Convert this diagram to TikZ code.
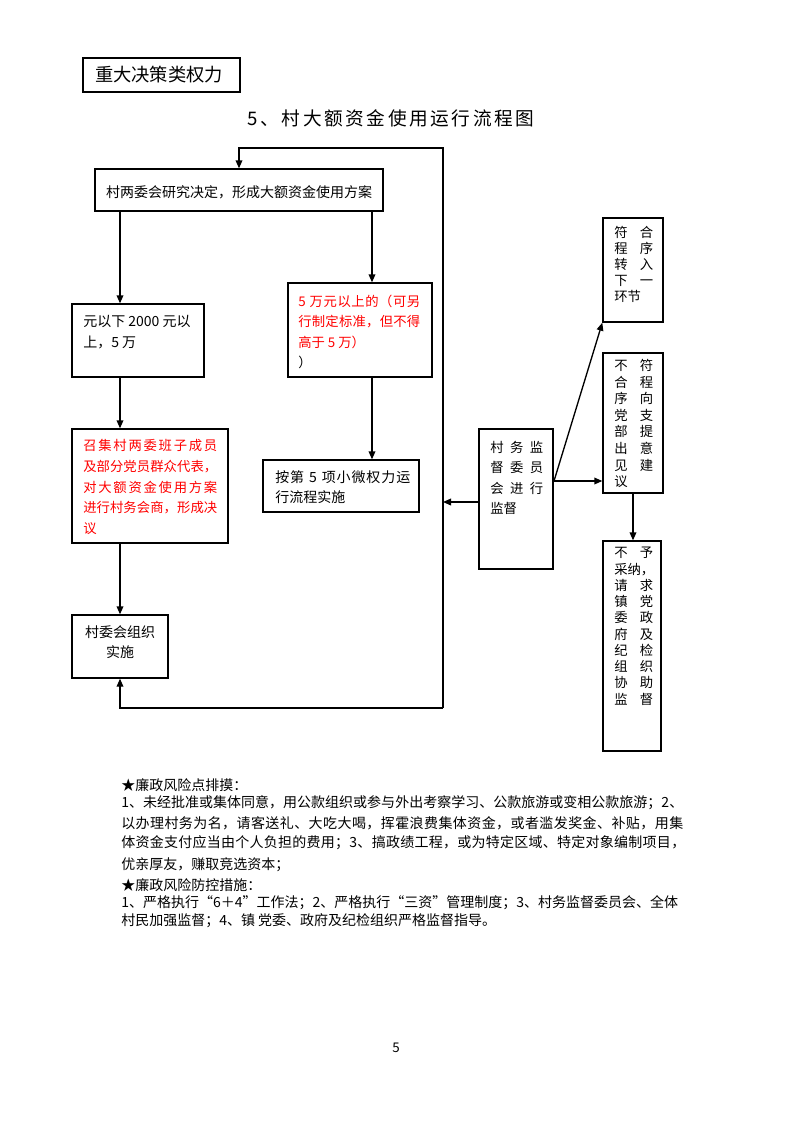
\documentclass[tikz,border=0pt]{standalone}
\usepackage{fontspec}
\setmainfont{Noto Sans CJK SC}
\usetikzlibrary{arrows.meta,fit}
\newdimen\PX \PX=0.75pt
\newskip\lsgap
\makeatletter
\def\lsp#1{\lsp@a#1\@nil}
\def\lsp@a#1{#1\lsp@b}
\def\lsp@b#1{\ifx#1\@nil\else\hskip\lsgap\relax#1\expandafter\lsp@b\fi}
\makeatother
\newcommand\jline[2]{\makebox[#1\PX][s]{\lsgap=0pt plus 1fil\lsp{#2}}}
\newcommand\gline[2]{{\lsgap=#1\PX\lsp{#2}}}
\begin{document}
\begin{tikzpicture}[x=0.75pt,y=-0.75pt,
  box/.style={draw, line width=1pt, inner sep=0pt},
  arr/.style={line width=1pt, -{Triangle[length=6pt,width=5pt]}},
  ln/.style={line width=1pt},
  txt/.style={inner sep=0pt, align=left, anchor=north west},
  body/.style={inner sep=0pt, anchor=west, font=\fontsize{10.5}{13}\selectfont},
  ]
\useasboundingbox (0,0) rectangle (793,1122);
% header
\node[box, fit={(83,58)(240,92)}] (tb) {};
\node[inner sep=0pt, font=\fontsize{13.7}{16}\selectfont] (tbt) at (159,75) {重大决策类权力};
\node[inner sep=0pt, font=\fontsize{14}{17}\selectfont] (title) at (391,118) {\gline{2.6}{5、村大额资金使用运行流程图}};
% boxes
\node[box, fit={(95,169)(383,211)}] (b1) {};
\node[inner sep=0pt, font=\fontsize{10.5}{13}\selectfont] (b1t) at (239,192) {村两委会研究决定，形成大额资金使用方案};
\node[box, fit={(72,304)(204,377)}] (b2) {};
\node[txt, font=\fontsize{10.5}{15.75}\selectfont] (b2t) at (83,314.7) {元以下 2000 元以\\上，5 万};
\node[box, fit={(288,283)(432,377)}] (b3) {};
\node[txt, text=red, font=\fontsize{10}{15.2}\selectfont] (b3t) at (298,295) {\jline{122}{5\ 万元以上的（可另}\\\jline{122}{行制定标准，但不得}\\高于 5 万）\\\textcolor{black}{）}};
\node[box, fit={(263,460)(419,512)}] (b4) {};
\node[txt, font=\fontsize{10.5}{15}\selectfont] (b4t) at (275,470.7) {\jline{135}{按第\ 5\ 项小微权力运}\\行流程实施};
\node[box, fit={(72,429)(228,543)}] (b6) {};
\node[txt, text=red, font=\fontsize{10}{15.6}\selectfont] (b6t) at (83,439) {\jline{134}{召集村两委班子成员}\\\jline{134}{及部分党员群众代表，}\\\jline{134}{对大额资金使用方案}\\\jline{134}{进行村务会商，形成决}\\议};
\node[box, fit={(72,615)(168,678)}] (b5) {};
\node[inner sep=0pt, align=center, font=\fontsize{10.5}{15}\selectfont] (b5t) at (120,642) {村委会组织\\实施};
\node[box, fit={(479,429)(553,569)}] (sv) {};
\node[txt, font=\fontsize{10}{15.2}\selectfont] (svt) at (490,441) {\jline{53}{村务监}\\\jline{53}{督委员}\\\jline{53}{会进行}\\监督};
\node[box, fit={(603,218)(663,322)}] (ok) {};
\node[txt, font=\fontsize{10}{12}\selectfont] (okt) at (614,226) {\jline{39}{符合}\\\jline{39}{程序}\\\jline{39}{转入}\\\jline{39}{下一}\\环节};
\node[box, fit={(603,353)(663,493)}] (ng) {};
\node[txt, font=\fontsize{10}{12.45}\selectfont] (ngt) at (614,359) {\jline{39}{不符}\\\jline{39}{合程}\\\jline{39}{序向}\\\jline{39}{党支}\\\jline{39}{部提}\\\jline{39}{出意}\\\jline{39}{见建}\\议};
\node[box, fit={(603,541)(661,751)}] (rej) {};
\node[txt, font=\fontsize{10}{12.2}\selectfont] (rejt) at (614,547) {\jline{39}{不予}\\\jline{40}{采纳，}\\\jline{39}{请求}\\\jline{39}{镇党}\\\jline{39}{委政}\\\jline{39}{府及}\\\jline{39}{纪检}\\\jline{39}{组织}\\\jline{39}{协助}\\\jline{39}{监督}};
% coordinates
\coordinate (lt) at (443,148);
\coordinate (lb) at (443,708);
\coordinate (xr) at (372,211);
\coordinate (sp) at (554,481);
% connectors
\draw[arr] (lb) -- (lt) -| (b1.north);
\draw[arr] (lb) -| (b5.south);
\draw[arr] (b1.south -| b5.north) -- (b2.north -| b5.north);
\draw[arr] (b2.south -| b5.north) -- (b6.north -| b5.north);
\draw[arr] (b6.south -| b5.north) -- (b5.north);
\draw[arr] (b1.south -| xr) -- (b3.north -| xr);
\draw[arr] (b3.south -| xr) -- (b4.north -| xr);
\draw[arr] ([yshift=-2.25pt]sv.west) -- ([yshift=-2.25pt]sv.west -| lt);
\draw[arr] (sp) -- (ok.south west);
\draw[arr] (sp) -- (sp -| ng.west);
\draw[arr] (ng.south) -- (ng.south |- rej.north);
% body text
\node[body] (p1) at (121,785) {★廉政风险点排摸：};
\node[body] (p2) at (121,803) {\jline{562}{1、未经批准或集体同意，用公款组织或参与外出考察学习、公款旅游或变相公款旅游；2、}};
\node[body] (p3) at (121,823) {\jline{562}{以办理村务为名，请客送礼、大吃大喝，挥霍浪费集体资金，或者滥发奖金、补贴，用集}};
\node[body] (p4) at (121,843) {\jline{564}{体资金支付应当由个人负担的费用；3、搞政绩工程，或为特定区域、特定对象编制项目，}};
\node[body] (p5) at (121,865) {优亲厚友，赚取竞选资本；};
\node[body] (p6) at (121,885) {★廉政风险防控措施：};
\node[body] (p7) at (121,903) {1、严格执行“6＋4”工作法；2、严格执行“三资”管理制度；3、村务监督委员会、全体};
\node[body] (p8) at (121,921) {村民加强监督；4、镇 党委、政府及纪检组织严格监督指导。};
\node[inner sep=0pt, font=\fontsize{10}{12}\selectfont] (pg) at (396,1048) {5};
\end{tikzpicture}
\end{document}
